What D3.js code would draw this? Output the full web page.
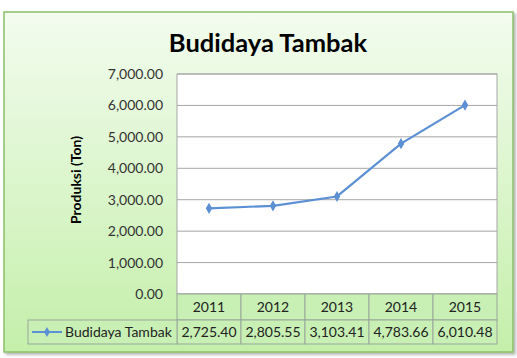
<!DOCTYPE html>
<html><head><meta charset="utf-8">
<script src="https://cdn.jsdelivr.net/npm/d3@7"></script>
<style>body{margin:0;background:#fff}svg{display:block}</style>
</head><body>
<script>
const categories = ["2011","2012","2013","2014","2015"];
const values = [2725.40, 2805.55, 3103.41, 4783.66, 6010.48];
const valueLabels = ["2,725.40","2,805.55","3,103.41","4,783.66","6,010.48"];
const yTicks = [0,1000,2000,3000,4000,5000,6000,7000];
const seriesName = "Budidaya Tambak";
const title = "Budidaya Tambak";
const yTitle = "Produksi (Ton)";

(function(){
const W=517,H=358;
const svg=d3.select("body").append("svg").attr("width",W).attr("height",H);
const defs=svg.append("defs");
const g=defs.append("linearGradient").attr("id","bg").attr("x1",0).attr("y1",0).attr("x2",0).attr("y2",1);
g.append("stop").attr("offset","0%").attr("stop-color","#f3fcef");
g.append("stop").attr("offset","100%").attr("stop-color","#c4efaa");
const f=defs.append("filter").attr("id","sh").attr("x","-5%").attr("y","-5%").attr("width","110%").attr("height","110%");
f.append("feDropShadow").attr("dx",2).attr("dy",2).attr("stdDeviation",1.5).attr("flood-color","#000").attr("flood-opacity",0.3);

svg.append("rect").attr("x",4).attr("y",12).attr("width",509).attr("height",340)
  .attr("fill","url(#bg)").attr("stroke","#8cbf6a").attr("stroke-width",1.5).attr("filter","url(#sh)");

const font="Lato, 'Open Sans', sans-serif";
svg.append("text").attr("x",268).attr("y",52).attr("text-anchor","middle")
  .attr("font-family",font).attr("font-weight","bold").attr("font-size",25.5).attr("fill","#000").text(title);

const pL=177,pR=497,pT=74,pB=294;
const x=d3.scaleBand().domain(categories).range([pL,pR]);
const y=d3.scaleLinear().domain([0,7000]).range([pB,pT]);

svg.append("rect").attr("x",pL).attr("y",pT).attr("width",pR-pL).attr("height",pB-pT).attr("fill","#fff");
svg.append("g").selectAll("line").data(yTicks).join("line")
  .attr("x1",pL).attr("x2",pR).attr("y1",d=>y(d)).attr("y2",d=>y(d))
  .attr("stroke","#a6a6a6").attr("stroke-width",1);
svg.append("rect").attr("x",pL).attr("y",pT).attr("width",pR-pL).attr("height",pB-pT)
  .attr("fill","none").attr("stroke","#a6a6a6");

const yAxis=d3.axisLeft(y).tickValues(yTicks).tickFormat(d3.format(",.2f")).tickSize(0).tickPadding(14);
const ya=svg.append("g").attr("transform",`translate(${pL},0)`).call(yAxis);
ya.select(".domain").remove();
ya.selectAll("text").attr("font-family",font).attr("font-size",14).attr("fill","#333");

svg.append("text").attr("transform",`translate(81,${180}) rotate(-90)`).attr("text-anchor","middle")
  .attr("font-family",font).attr("font-weight","bold").attr("font-size",14).attr("fill","#000").text(yTitle);

const line=d3.line().x((d,i)=>x(categories[i])+x.bandwidth()/2).y(d=>y(d));
svg.append("path").datum(values).attr("d",line).attr("fill","none").attr("stroke","#5b90d4").attr("stroke-width",2.2);
svg.append("g").selectAll("path").data(values).join("path")
  .attr("d",d3.symbol(d3.symbolDiamond,36)())
  .attr("transform",(d,i)=>`translate(${x(categories[i])+x.bandwidth()/2},${y(d)})`)
  .attr("fill","#5b90d4");

const r1=294,r2=320,r3=344,tLeft=28;
const cellFill="#c8f0b4", cellStroke="#9aa79a";
svg.append("g").selectAll("rect").data(categories).join("rect")
  .attr("x",d=>x(d)).attr("y",r1).attr("width",x.bandwidth()).attr("height",r2-r1)
  .attr("fill",cellFill).attr("stroke",cellStroke);
svg.append("g").selectAll("rect").data(categories).join("rect")
  .attr("x",d=>x(d)).attr("y",r2).attr("width",x.bandwidth()).attr("height",r3-r2)
  .attr("fill",cellFill).attr("stroke",cellStroke);
svg.append("rect").attr("x",tLeft).attr("y",r2).attr("width",pL-tLeft).attr("height",r3-r2)
  .attr("fill",cellFill).attr("stroke",cellStroke);
svg.append("g").selectAll("text").data(categories).join("text")
  .attr("x",d=>x(d)+x.bandwidth()/2).attr("y",(r1+r2)/2+5).attr("text-anchor","middle")
  .attr("font-family",font).attr("font-size",14).attr("fill","#222").text(d=>d);
svg.append("g").selectAll("text").data(valueLabels).join("text")
  .attr("x",(d,i)=>x(categories[i])+x.bandwidth()/2).attr("y",(r2+r3)/2+5).attr("text-anchor","middle")
  .attr("font-family",font).attr("font-size",14).attr("fill","#222").text(d=>d);
svg.append("line").attr("x1",32).attr("x2",62).attr("y1",(r2+r3)/2).attr("y2",(r2+r3)/2)
  .attr("stroke","#5b90d4").attr("stroke-width",2);
svg.append("path").attr("d",d3.symbol(d3.symbolDiamond,30)()).attr("transform",`translate(47,${(r2+r3)/2})`).attr("fill","#5b90d4");
svg.append("text").attr("x",65).attr("y",(r2+r3)/2+5).attr("font-family",font).attr("font-size",14).attr("fill","#222").text(seriesName);
})();
</script>
</body></html>
